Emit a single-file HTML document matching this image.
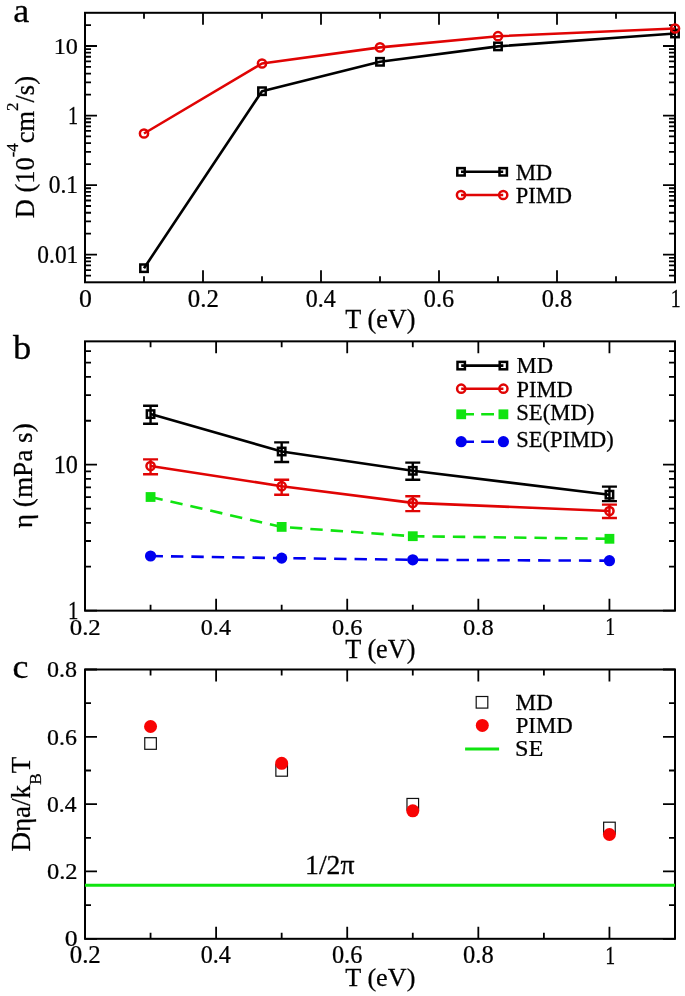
<!DOCTYPE html>
<html><head><meta charset="utf-8"><style>
html,body{margin:0;padding:0;background:#fff;}
svg{display:block;will-change:transform;}
text{font-family:"Liberation Serif",serif;fill:#000;stroke:#000;stroke-width:0.25px;}
</style></head><body>
<svg width="685" height="996" viewBox="0 0 685 996">
<rect width="685" height="996" fill="#fff"/>
<rect x="85.0" y="12.8" width="590.0" height="269.5" fill="none" stroke="#000" stroke-width="2.0"/>
<path d="M85.00 282.3v-12M85.00 12.8v12M203.00 282.3v-12M203.00 12.8v12M321.00 282.3v-12M321.00 12.8v12M439.00 282.3v-12M439.00 12.8v12M557.00 282.3v-12M557.00 12.8v12M675.00 282.3v-12M675.00 12.8v12M144.00 282.3v-6M144.00 12.8v6M262.00 282.3v-6M262.00 12.8v6M380.00 282.3v-6M380.00 12.8v6M498.00 282.3v-6M498.00 12.8v6M616.00 282.3v-6M616.00 12.8v6" stroke="#000" stroke-width="1.8" fill="none"/>
<path d="M85.0 254.62h12M675.0 254.62h-12M85.0 185.08h12M675.0 185.08h-12M85.0 115.53h12M675.0 115.53h-12M85.0 45.98h12M675.0 45.98h-12M85.0 275.56h6M675.0 275.56h-6M85.0 270.05h6M675.0 270.05h-6M85.0 265.40h6M675.0 265.40h-6M85.0 261.36h6M675.0 261.36h-6M85.0 257.81h6M675.0 257.81h-6M85.0 233.69h6M675.0 233.69h-6M85.0 221.44h6M675.0 221.44h-6M85.0 212.75h6M675.0 212.75h-6M85.0 206.01h6M675.0 206.01h-6M85.0 200.51h6M675.0 200.51h-6M85.0 195.85h6M675.0 195.85h-6M85.0 191.82h6M675.0 191.82h-6M85.0 188.26h6M675.0 188.26h-6M85.0 164.14h6M675.0 164.14h-6M85.0 151.89h6M675.0 151.89h-6M85.0 143.21h6M675.0 143.21h-6M85.0 136.47h6M675.0 136.47h-6M85.0 130.96h6M675.0 130.96h-6M85.0 126.30h6M675.0 126.30h-6M85.0 122.27h6M675.0 122.27h-6M85.0 118.71h6M675.0 118.71h-6M85.0 94.59h6M675.0 94.59h-6M85.0 82.35h6M675.0 82.35h-6M85.0 73.66h6M675.0 73.66h-6M85.0 66.92h6M675.0 66.92h-6M85.0 61.41h6M675.0 61.41h-6M85.0 56.76h6M675.0 56.76h-6M85.0 52.72h6M675.0 52.72h-6M85.0 49.16h6M675.0 49.16h-6M85.0 25.05h6M675.0 25.05h-6" stroke="#000" stroke-width="1.8" fill="none"/>
<rect x="85.0" y="341.35" width="590.0" height="269.29999999999995" fill="none" stroke="#000" stroke-width="2.0"/>
<path d="M85.00 610.65v-12M85.00 341.35v12M216.11 610.65v-12M216.11 341.35v12M347.22 610.65v-12M347.22 341.35v12M478.33 610.65v-12M478.33 341.35v12M609.44 610.65v-12M609.44 341.35v12M150.56 610.65v-6M150.56 341.35v6M281.67 610.65v-6M281.67 341.35v6M412.78 610.65v-6M412.78 341.35v6M543.89 610.65v-6M543.89 341.35v6" stroke="#000" stroke-width="1.8" fill="none"/>
<path d="M85.0 610.65h12M675.0 610.65h-12M85.0 464.70h12M675.0 464.70h-12M85.0 566.71h6M675.0 566.71h-6M85.0 541.01h6M675.0 541.01h-6M85.0 522.78h6M675.0 522.78h-6M85.0 508.63h6M675.0 508.63h-6M85.0 497.08h6M675.0 497.08h-6M85.0 487.30h6M675.0 487.30h-6M85.0 478.84h6M675.0 478.84h-6M85.0 471.37h6M675.0 471.37h-6M85.0 420.76h6M675.0 420.76h-6M85.0 395.06h6M675.0 395.06h-6M85.0 376.82h6M675.0 376.82h-6M85.0 362.68h6M675.0 362.68h-6M85.0 351.12h6M675.0 351.12h-6" stroke="#000" stroke-width="1.8" fill="none"/>
<rect x="85.0" y="669.5" width="590.0" height="269.29999999999995" fill="none" stroke="#000" stroke-width="2.0"/>
<path d="M85.00 938.8v-12M85.00 669.5v12M216.11 938.8v-12M216.11 669.5v12M347.22 938.8v-12M347.22 669.5v12M478.33 938.8v-12M478.33 669.5v12M609.44 938.8v-12M609.44 669.5v12M150.56 938.8v-6M150.56 669.5v6M281.67 938.8v-6M281.67 669.5v6M412.78 938.8v-6M412.78 669.5v6M543.89 938.8v-6M543.89 669.5v6" stroke="#000" stroke-width="1.8" fill="none"/>
<path d="M85.0 938.80h12M675.0 938.80h-12M85.0 871.47h12M675.0 871.47h-12M85.0 804.15h12M675.0 804.15h-12M85.0 736.83h12M675.0 736.83h-12M85.0 669.50h12M675.0 669.50h-12M85.0 905.14h6M675.0 905.14h-6M85.0 837.81h6M675.0 837.81h-6M85.0 770.49h6M675.0 770.49h-6M85.0 703.16h6M675.0 703.16h-6" stroke="#000" stroke-width="1.8" fill="none"/>
<path d="M144.00 268.20 L262.00 91.20 L380.00 61.80 L498.00 46.40 L675.00 33.50" fill="none" stroke="#000" stroke-width="2.6" stroke-linejoin="round"/>
<rect x="140.30" y="264.50" width="7.4" height="7.4" fill="none" stroke="#000" stroke-width="2.5"/>
<rect x="258.30" y="87.50" width="7.4" height="7.4" fill="none" stroke="#000" stroke-width="2.5"/>
<rect x="376.30" y="58.10" width="7.4" height="7.4" fill="none" stroke="#000" stroke-width="2.5"/>
<rect x="494.30" y="42.70" width="7.4" height="7.4" fill="none" stroke="#000" stroke-width="2.5"/>
<rect x="671.30" y="29.80" width="7.4" height="7.4" fill="none" stroke="#000" stroke-width="2.5"/>
<path d="M144.00 133.50 L262.00 63.50 L380.00 47.40 L498.00 36.20 L675.00 28.50" fill="none" stroke="#e00404" stroke-width="2.6" stroke-linejoin="round"/>
<circle cx="144.00" cy="133.50" r="4.1" fill="none" stroke="#e00404" stroke-width="2.5"/>
<circle cx="262.00" cy="63.50" r="4.1" fill="none" stroke="#e00404" stroke-width="2.5"/>
<circle cx="380.00" cy="47.40" r="4.1" fill="none" stroke="#e00404" stroke-width="2.5"/>
<circle cx="498.00" cy="36.20" r="4.1" fill="none" stroke="#e00404" stroke-width="2.5"/>
<circle cx="675.00" cy="28.50" r="4.1" fill="none" stroke="#e00404" stroke-width="2.5"/>
<path d="M461.00 171.80 L503.20 171.80" fill="none" stroke="#000" stroke-width="2.6" stroke-linejoin="round"/>
<rect x="457.30" y="168.10" width="7.4" height="7.4" fill="none" stroke="#000" stroke-width="2.5"/>
<rect x="499.50" y="168.10" width="7.4" height="7.4" fill="none" stroke="#000" stroke-width="2.5"/>
<path d="M461.00 195.00 L503.20 195.00" fill="none" stroke="#e00404" stroke-width="2.6" stroke-linejoin="round"/>
<circle cx="461.00" cy="195.00" r="4.1" fill="none" stroke="#e00404" stroke-width="2.5"/>
<circle cx="503.20" cy="195.00" r="4.1" fill="none" stroke="#e00404" stroke-width="2.5"/>
<path d="M150.56 414.10 L281.67 451.50 L412.78 470.80 L609.44 494.70" fill="none" stroke="#000" stroke-width="2.6" stroke-linejoin="round"/>
<path d="M150.56 405.80V423.70M143.06 405.80h15M143.06 423.70h15" stroke="#000" stroke-width="2.4" fill="none"/>
<rect x="146.86" y="410.40" width="7.4" height="7.4" fill="none" stroke="#000" stroke-width="2.5"/>
<path d="M281.67 442.40V462.00M274.17 442.40h15M274.17 462.00h15" stroke="#000" stroke-width="2.4" fill="none"/>
<rect x="277.97" y="447.80" width="7.4" height="7.4" fill="none" stroke="#000" stroke-width="2.5"/>
<path d="M412.78 462.60V479.80M405.28 462.60h15M405.28 479.80h15" stroke="#000" stroke-width="2.4" fill="none"/>
<rect x="409.08" y="467.10" width="7.4" height="7.4" fill="none" stroke="#000" stroke-width="2.5"/>
<path d="M609.44 486.60V501.10M601.94 486.60h15M601.94 501.10h15" stroke="#000" stroke-width="2.4" fill="none"/>
<rect x="605.74" y="491.00" width="7.4" height="7.4" fill="none" stroke="#000" stroke-width="2.5"/>
<path d="M150.56 466.00 L281.67 486.20 L412.78 502.90 L609.44 511.00" fill="none" stroke="#e00404" stroke-width="2.6" stroke-linejoin="round"/>
<path d="M150.56 459.40V474.20M143.06 459.40h15M143.06 474.20h15" stroke="#e00404" stroke-width="2.4" fill="none"/>
<circle cx="150.56" cy="466.00" r="4.1" fill="none" stroke="#e00404" stroke-width="2.5"/>
<path d="M281.67 479.80V494.70M274.17 479.80h15M274.17 494.70h15" stroke="#e00404" stroke-width="2.4" fill="none"/>
<circle cx="281.67" cy="486.20" r="4.1" fill="none" stroke="#e00404" stroke-width="2.5"/>
<path d="M412.78 496.20V511.10M405.28 496.20h15M405.28 511.10h15" stroke="#e00404" stroke-width="2.4" fill="none"/>
<circle cx="412.78" cy="502.90" r="4.1" fill="none" stroke="#e00404" stroke-width="2.5"/>
<path d="M609.44 504.60V518.00M601.94 504.60h15M601.94 518.00h15" stroke="#e00404" stroke-width="2.4" fill="none"/>
<circle cx="609.44" cy="511.00" r="4.1" fill="none" stroke="#e00404" stroke-width="2.5"/>
<path d="M150.56 497.00 L281.67 526.90 L412.78 536.20 L609.44 538.80" fill="none" stroke="#10e410" stroke-width="2.6" stroke-linejoin="round" stroke-dasharray="12.4 8"/>
<rect x="145.66" y="492.10" width="9.8" height="9.8" fill="#10e410"/>
<rect x="276.77" y="522.00" width="9.8" height="9.8" fill="#10e410"/>
<rect x="407.88" y="531.30" width="9.8" height="9.8" fill="#10e410"/>
<rect x="604.54" y="533.90" width="9.8" height="9.8" fill="#10e410"/>
<path d="M150.56 556.00 L281.67 558.10 L412.78 559.80 L609.44 560.70" fill="none" stroke="#0000f0" stroke-width="2.6" stroke-linejoin="round" stroke-dasharray="12.4 8"/>
<circle cx="150.56" cy="556.00" r="5.6" fill="#0000f0"/>
<circle cx="281.67" cy="558.10" r="5.6" fill="#0000f0"/>
<circle cx="412.78" cy="559.80" r="5.6" fill="#0000f0"/>
<circle cx="609.44" cy="560.70" r="5.6" fill="#0000f0"/>
<path d="M461.20 365.60 L503.40 365.60" fill="none" stroke="#000" stroke-width="2.6" stroke-linejoin="round"/>
<rect x="457.50" y="361.90" width="7.4" height="7.4" fill="none" stroke="#000" stroke-width="2.5"/>
<rect x="499.70" y="361.90" width="7.4" height="7.4" fill="none" stroke="#000" stroke-width="2.5"/>
<path d="M461.20 388.70 L503.40 388.70" fill="none" stroke="#e00404" stroke-width="2.6" stroke-linejoin="round"/>
<circle cx="461.20" cy="388.70" r="4.1" fill="none" stroke="#e00404" stroke-width="2.5"/>
<circle cx="503.40" cy="388.70" r="4.1" fill="none" stroke="#e00404" stroke-width="2.5"/>
<path d="M461.20 414.30 L503.40 414.30" fill="none" stroke="#10e410" stroke-width="2.6" stroke-linejoin="round" stroke-dasharray="12.8 7.2"/>
<rect x="456.30" y="409.40" width="9.8" height="9.8" fill="#10e410"/>
<rect x="498.50" y="409.40" width="9.8" height="9.8" fill="#10e410"/>
<path d="M461.20 441.70 L503.40 441.70" fill="none" stroke="#0000f0" stroke-width="2.6" stroke-linejoin="round" stroke-dasharray="12.8 7.2"/>
<circle cx="461.20" cy="441.70" r="5.6" fill="#0000f0"/>
<circle cx="503.40" cy="441.70" r="5.6" fill="#0000f0"/>
<path d="M85.0 885.2H675.0" stroke="#10e410" stroke-width="3"/>
<rect x="144.76" y="737.70" width="11.6" height="11.6" fill="none" stroke="#111" stroke-width="1.2"/>
<rect x="275.87" y="764.60" width="11.6" height="11.6" fill="none" stroke="#111" stroke-width="1.2"/>
<rect x="406.98" y="798.45" width="11.6" height="11.6" fill="none" stroke="#111" stroke-width="1.2"/>
<rect x="603.64" y="822.20" width="11.6" height="11.6" fill="none" stroke="#111" stroke-width="1.2"/>
<circle cx="150.56" cy="726.50" r="6.5" fill="#f80404"/>
<circle cx="281.67" cy="763.30" r="6.5" fill="#f80404"/>
<circle cx="412.78" cy="810.80" r="6.5" fill="#f80404"/>
<circle cx="609.44" cy="834.50" r="6.5" fill="#f80404"/>
<rect x="476.20" y="696.50" width="11.6" height="11.6" fill="none" stroke="#111" stroke-width="1.2"/>
<circle cx="482.30" cy="725.40" r="6.5" fill="#f80404"/>
<path d="M465.1 748.9H499.1" stroke="#10e410" stroke-width="3"/>
<text transform="translate(13.33,21.55) scale(1.0923,1.0468)" font-size="33">a</text>
<text transform="translate(13.00,359.24) scale(1.1791,1.0718)" font-size="31">b</text>
<text transform="translate(12.60,678.05) scale(1.0905,1.0358)" font-size="33">c</text>
<text transform="translate(53.66,53.90) scale(0.9860,0.9696)" font-size="24.6">10</text>
<text transform="translate(68.02,123.90) scale(0.8192,1.0163)" font-size="24.6">1</text>
<text transform="translate(48.75,193.17) scale(0.9529,0.9861)" font-size="24.6">0.1</text>
<text transform="translate(37.35,262.67) scale(0.9506,0.9980)" font-size="24.6">0.01</text>
<text transform="translate(78.91,306.73) scale(1.0490,0.9960)" font-size="24.6">0</text>
<text transform="translate(187.79,306.67) scale(1.0094,0.9921)" font-size="24.6">0.2</text>
<text transform="translate(305.82,306.67) scale(0.9750,0.9921)" font-size="24.6">0.4</text>
<text transform="translate(423.81,306.67) scale(0.9862,0.9921)" font-size="24.6">0.6</text>
<text transform="translate(541.81,306.67) scale(0.9919,0.9921)" font-size="24.6">0.8</text>
<text transform="translate(670.85,307.00) scale(0.8077,1.0102)" font-size="24.6">1</text>
<text transform="translate(345.30,327.80) scale(1.0098,1.0176)" font-size="26">T (eV)</text>
<text transform="translate(515.63,179.50) scale(1.0077,1.0180)" font-size="22.6">MD</text>
<text transform="translate(515.64,202.80) scale(0.9964,1.0045)" font-size="22.6">PIMD</text>
<text transform="translate(53.66,472.63) scale(0.9860,1.0020)" font-size="24.6">10</text>
<text transform="translate(68.01,618.70) scale(0.8481,1.0041)" font-size="24.6">1</text>
<text transform="translate(69.69,634.88) scale(1.0129,0.9683)" font-size="24.6">0.2</text>
<text transform="translate(200.83,634.88) scale(0.9784,0.9683)" font-size="24.6">0.4</text>
<text transform="translate(331.93,634.88) scale(0.9897,0.9683)" font-size="24.6">0.6</text>
<text transform="translate(463.04,634.88) scale(0.9954,0.9683)" font-size="24.6">0.8</text>
<text transform="translate(605.29,635.20) scale(0.8077,0.9980)" font-size="24.6">1</text>
<text transform="translate(345.30,657.60) scale(1.0084,1.0118)" font-size="26">T (eV)</text>
<text transform="translate(516.53,372.90) scale(1.0019,0.9978)" font-size="22.6">MD</text>
<text transform="translate(516.54,396.50) scale(0.9927,1.0045)" font-size="22.6">PIMD</text>
<text transform="translate(516.15,419.80) scale(1.0336,1.0186)" font-size="22">SE(MD)</text>
<text transform="translate(516.37,447.30) scale(1.0223,1.0256)" font-size="22">SE(PIMD)</text>
<text transform="translate(47.02,677.28) scale(0.9780,0.9624)" font-size="24.6">0.8</text>
<text transform="translate(47.03,744.60) scale(0.9724,0.9624)" font-size="24.6">0.6</text>
<text transform="translate(47.04,811.93) scale(0.9614,0.9624)" font-size="24.6">0.4</text>
<text transform="translate(47.00,879.25) scale(0.9953,0.9624)" font-size="24.6">0.2</text>
<text transform="translate(64.65,946.34) scale(1.0452,0.9600)" font-size="24.6">0</text>
<text transform="translate(69.69,963.27) scale(1.0129,0.9980)" font-size="24.6">0.2</text>
<text transform="translate(200.83,963.27) scale(0.9784,0.9980)" font-size="24.6">0.4</text>
<text transform="translate(331.93,963.27) scale(0.9897,0.9980)" font-size="24.6">0.6</text>
<text transform="translate(463.04,963.27) scale(0.9954,0.9980)" font-size="24.6">0.8</text>
<text transform="translate(605.29,963.60) scale(0.8077,1.0163)" font-size="24.6">1</text>
<text transform="translate(345.30,986.00) scale(1.0084,1.0059)" font-size="26">T (eV)</text>
<text transform="translate(515.62,709.70) scale(1.0220,1.0112)" font-size="22.6">MD</text>
<text transform="translate(515.63,733.00) scale(1.0091,0.9978)" font-size="22.6">PIMD</text>
<text transform="translate(514.99,756.34) scale(1.0741,0.9758)" font-size="22.6">SE</text>
<text transform="translate(305.00,873.90) scale(1.0695,1.0194)" font-size="26">1/2π</text>
<text transform="translate(33.80,218.32) rotate(-90) scale(0.9887,1.0019)" font-size="26.8">D (10<tspan font-size="17" dy="-15.5">-4</tspan><tspan dy="15.5">cm</tspan><tspan font-size="17" dy="-15.5">2</tspan><tspan dy="15.5">/s)</tspan></text>
<text transform="translate(31.80,528.21) rotate(-90) scale(1.0161,1.0229)" font-size="26.8">η (mPa s)</text>
<text transform="translate(29.90,851.55) rotate(-90) scale(1.0163,1.0154)" font-size="26.6">Dηa/k<tspan font-size="17" dy="10.5">B</tspan><tspan dy="-10.5">T</tspan></text>
</svg>
</body></html>
